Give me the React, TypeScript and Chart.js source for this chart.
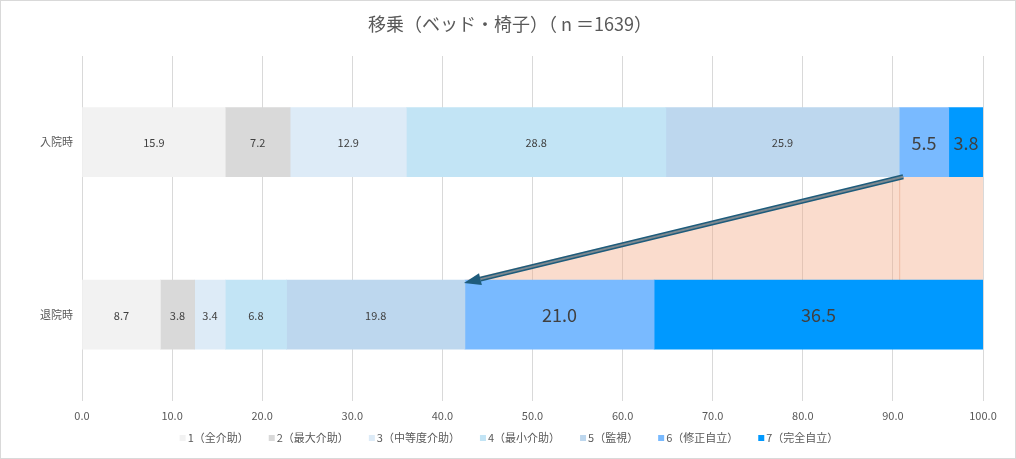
import { useEffect, useRef } from "react"
import Chart from "chart.js/auto"

const categories = ["入院時", "退院時"]
const levels = [
  "1（全介助）",
  "2（最大介助）",
  "3（中等度介助）",
  "4（最小介助）",
  "5（監視）",
  "6（修正自立）",
  "7（完全自立）",
]
const admission = [15.9, 7.2, 12.9, 28.8, 25.9, 5.5, 3.8]
const discharge = [8.7, 3.8, 3.4, 6.8, 19.8, 21.0, 36.5]
const colors = ["#F2F2F2", "#D9D9D9", "#DDEBF7", "#C2E4F5", "#BDD7EE", "#79BAFF", "#0099FF"]
const bigLabelLevels = [5, 6]
const titleText = "移乗（ベッド・椅子）（ n ＝1639）"

const FONT = "'Noto Sans CJK JP', 'Noto Sans', sans-serif"

// peach band + arrow between the two bars (level 5 end -> level 5 end)
const shiftPlugin = {
  id: "shift",
  beforeDatasetsDraw(chart: Chart) {
    const top = chart.getDatasetMeta(4).data[0] as any
    const bottom = chart.getDatasetMeta(4).data[1] as any
    const right = chart.scales.x.getPixelForValue(100)
    const y1 = top.y + top.height / 2
    const y2 = bottom.y - bottom.height / 2
    const ctx = chart.ctx
    ctx.save()
    ctx.fillStyle = "rgba(242, 168, 130, 0.4)"
    ctx.beginPath()
    ctx.moveTo(top.x, y1)
    ctx.lineTo(right, y1)
    ctx.lineTo(right, y2)
    ctx.lineTo(bottom.x, y2)
    ctx.closePath()
    ctx.fill()
    ctx.strokeStyle = "rgba(230, 160, 130, 0.5)"
    ctx.lineWidth = 1
    ctx.beginPath()
    ctx.moveTo(top.x + 0.5, y1)
    ctx.lineTo(top.x + 0.5, y2)
    ctx.stroke()
    ctx.restore()
  },
  afterDatasetsDraw(chart: Chart) {
    const top = chart.getDatasetMeta(4).data[0] as any
    const bottom = chart.getDatasetMeta(4).data[1] as any
    const x1 = top.x + 4
    const y1 = top.y + top.height / 2
    const x2 = bottom.x - 1
    const y2 = bottom.y - bottom.height / 2 + 3
    const ang = Math.atan2(y2 - y1, x2 - x1)
    const headLen = 17
    const headW = 6
    const bx = x2 - Math.cos(ang) * headLen
    const by = y2 - Math.sin(ang) * headLen
    const ctx = chart.ctx
    ctx.save()
    ctx.lineCap = "butt"
    ctx.strokeStyle = "#1E5C7C"
    ctx.lineWidth = 5
    ctx.beginPath()
    ctx.moveTo(x1, y1)
    ctx.lineTo(bx, by)
    ctx.stroke()
    ctx.strokeStyle = "#7E8990"
    ctx.lineWidth = 2
    ctx.beginPath()
    ctx.moveTo(x1, y1)
    ctx.lineTo(bx, by)
    ctx.stroke()
    ctx.fillStyle = "#1E5C7C"
    ctx.beginPath()
    ctx.moveTo(x2, y2)
    ctx.lineTo(bx - Math.sin(ang) * headW, by + Math.cos(ang) * headW)
    ctx.lineTo(bx + Math.sin(ang) * headW, by - Math.cos(ang) * headW)
    ctx.closePath()
    ctx.fill()
    ctx.restore()
  },
}

const valueLabelPlugin = {
  id: "valueLabels",
  afterDatasetsDraw(chart: Chart) {
    const ctx = chart.ctx
    ctx.save()
    ctx.fillStyle = "#404040"
    ctx.textAlign = "center"
    ctx.textBaseline = "middle"
    chart.data.datasets.forEach((ds, i) => {
      const big = bigLabelLevels.includes(i)
      ctx.font = `${big ? 18 : 11}px ${FONT}`
      chart.getDatasetMeta(i).data.forEach((bar: any, j) => {
        const v = ds.data[j] as number
        ctx.fillText(v.toFixed(1), (bar.x + bar.base) / 2, bar.y + 1)
      })
    })
    ctx.restore()
  },
}

// title + small square-marker legend, centred on the whole canvas
const frameTextPlugin = {
  id: "frameText",
  afterDraw(chart: Chart) {
    const ctx = chart.ctx
    ctx.save()
    ctx.font = `18px ${FONT}`
    ctx.fillStyle = "#595959"
    ctx.textAlign = "center"
    ctx.textBaseline = "middle"
    ctx.fillText(titleText, chart.width / 2 + 2, 23)

    const box = 6
    const gap = 2
    const spacing = 20
    const y = 437
    ctx.font = `11px ${FONT}`
    ctx.textAlign = "left"
    const widths = levels.map((t) => ctx.measureText(t).width)
    const total = widths.reduce((a, w) => a + box + gap + w, 0) + spacing * (levels.length - 1)
    let x = (chart.width - total) / 2 + 1
    levels.forEach((t, i) => {
      ctx.fillStyle = colors[i]
      ctx.fillRect(x, y - box / 2, box, box)
      x += box + gap
      ctx.fillStyle = "#595959"
      ctx.fillText(t, x, y)
      x += widths[i] + spacing
    })
    ctx.restore()
  },
}

export default function App() {
  const chartRef = useRef<HTMLCanvasElement>(null)
  const chartInstance = useRef<Chart | null>(null)

  useEffect(() => {
    if (!chartRef.current) return
    if (chartInstance.current) chartInstance.current.destroy()

    chartInstance.current = new Chart(chartRef.current, {
      type: "bar",
      data: {
        labels: categories,
        datasets: levels.map((name, i) => ({
          label: name,
          data: [admission[i], discharge[i]],
          backgroundColor: colors[i],
          borderWidth: 0,
          barThickness: 69,
        })),
      },
      plugins: [shiftPlugin, valueLabelPlugin, frameTextPlugin],
      options: {
        indexAxis: "y",
        animation: false,
        responsive: true,
        maintainAspectRatio: false,
        layout: { padding: { left: 0, right: 32, top: 55, bottom: 28 } },
        scales: {
          x: {
            stacked: true,
            min: 0,
            max: 100,
            grid: { color: "#D9D9D9", drawTicks: false },
            border: { display: false },
            ticks: {
              stepSize: 10,
              padding: 8,
              color: "#595959",
              font: { family: FONT, size: 11 },
              callback: (v) => Number(v).toFixed(1),
            },
          },
          y: {
            stacked: true,
            grid: { display: false, drawTicks: false },
            border: { display: false },
            afterFit: (scale) => {
              scale.width = 81
            },
            ticks: {
              padding: 9,
              color: "#595959",
              font: { family: FONT, size: 11 },
            },
          },
        },
        plugins: {
          title: { display: false },
          legend: { display: false },
          tooltip: { enabled: false },
        },
      },
    })

    return () => {
      if (chartInstance.current) {
        chartInstance.current.destroy()
        chartInstance.current = null
      }
    }
  }, [])

  return (
    <div
      style={{
        position: "absolute",
        left: 0,
        top: 0,
        width: 1016,
        height: 459,
        boxSizing: "border-box",
        border: "1px solid #D9D9D9",
        background: "#fff",
      }}
    >
      <canvas ref={chartRef} />
    </div>
  )
}
